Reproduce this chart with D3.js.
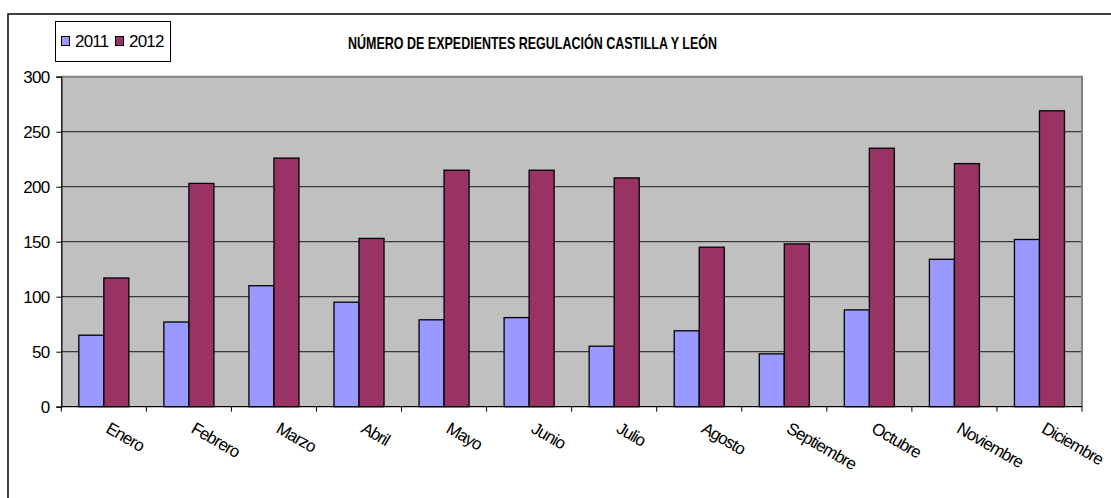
<!DOCTYPE html>
<style>
  body { margin: 0; background: white; }
  svg { font-family: 'Liberation Sans', Arial, sans-serif; }
</style>
<body>
</body>
<script src="https://cdn.jsdelivr.net/npm/d3@7/dist/d3.min.js"></script>
<script>
  const months = ['Enero', 'Febrero', 'Marzo', 'Abril', 'Mayo', 'Junio', 'Julio',
    'Agosto', 'Septiembre', 'Octubre', 'Noviembre', 'Diciembre'];
  const series = ['2011', '2012'];
  const v2011 = [65, 77, 110, 95, 79, 81, 55, 69, 48, 88, 134, 152];
  const v2012 = [117, 203, 226, 153, 215, 215, 208, 145, 148, 235, 221, 269];
  const yTicks = [0, 50, 100, 150, 200, 250, 300];
  const colors = {'2011': '#9999ff', '2012': '#993366'};
  const title = 'NÚMERO DE EXPEDIENTES REGULACIÓN CASTILLA Y LEÓN';

  const w = 1111, h = 498;
  const l = 61.3, r = 1082, t = 76.7, b = 406.7;

  const svg = d3.select('body').append('svg')
    .attr('width', w)
    .attr('height', h);

  // chart frame (runs off the right and bottom of the picture)
  svg.append('rect')
    .attr('x', 8).attr('y', 14)
    .attr('width', 1200).attr('height', 600)
    .attr('fill', 'white')
    .attr('stroke', '#111')
    .attr('stroke-width', 1.6);

  const x = d3.scaleBand().domain(months).range([l, r]);
  const xs = d3.scaleBand().domain(series).range([0, x.bandwidth()]).paddingOuter(0.7);
  const y = d3.scaleLinear().domain([0, 300]).range([b, t]);

  // plot area
  svg.append('rect')
    .attr('x', l).attr('y', y(300))
    .attr('width', r - l).attr('height', y(0) - y(300))
    .attr('fill', '#c0c0c0');

  svg.append('g')
    .selectAll('line')
    .data(yTicks.filter(d => d > 0 && d < 300))
    .join('line')
      .attr('x1', l).attr('x2', r)
      .attr('y1', d => y(d)).attr('y2', d => y(d))
      .attr('stroke', '#3a3a3a')
      .attr('stroke-width', 1.2);

  // plot border top / right
  svg.append('path')
    .attr('d', `M${l},${y(300)}H${r}V${y(0)}`)
    .attr('fill', 'none')
    .attr('stroke', '#808080')
    .attr('stroke-width', 2);

  const rows = months.map((m, i) => ({m, '2011': v2011[i], '2012': v2012[i]}));

  svg.append('g')
    .selectAll('g')
    .data(rows)
    .join('g')
      .attr('transform', d => `translate(${x(d.m)},0)`)
    .selectAll('rect')
    .data(d => series.map(s => ({s, v: d[s]})))
    .join('rect')
      .attr('x', d => xs(d.s))
      .attr('y', d => y(d.v))
      .attr('width', xs.bandwidth())
      .attr('height', d => y(0) - y(d.v))
      .attr('fill', d => colors[d.s])
      .attr('stroke', '#000')
      .attr('stroke-width', 1.3);

  // y axis
  const yAxis = svg.append('g')
    .attr('transform', `translate(${l},0)`)
    .call(d3.axisLeft(y).tickValues(yTicks).tickSize(5).tickPadding(7));
  yAxis.select('.domain').attr('stroke', '#000').attr('stroke-width', 1.3);
  yAxis.selectAll('.tick line').attr('stroke', '#000');
  yAxis.selectAll('text')
    .attr('font-size', 17)
    .attr('letter-spacing', -0.8)
    .attr('fill', '#000')
    .attr('font-family', "'Liberation Sans', Arial, sans-serif");

  // x axis
  const xg = svg.append('g');
  xg.append('line')
    .attr('x1', l).attr('x2', r)
    .attr('y1', b).attr('y2', b)
    .attr('stroke', '#000').attr('stroke-width', 1.3);
  xg.selectAll('.xt')
    .data(months.map(m => x(m)).concat([r]))
    .join('line')
      .attr('class', 'xt')
      .attr('x1', d => d).attr('x2', d => d)
      .attr('y1', b).attr('y2', b + 5)
      .attr('stroke', '#000');
  xg.selectAll('text')
    .data(months)
    .join('text')
      .attr('transform', d => `translate(${x(d) + x.bandwidth() / 2 + 1},${b + 25}) rotate(30)`)
      .attr('font-size', 17)
      .attr('letter-spacing', -1)
      .text(d => d);

  // title
  svg.append('text')
    .attr('x', 348).attr('y', 49)
    .attr('font-size', 17)
    .attr('font-weight', 'bold')
    .attr('textLength', 369)
    .attr('lengthAdjust', 'spacingAndGlyphs')
    .text(title);

  // legend
  const lg = svg.append('g');
  lg.append('rect')
    .attr('x', 55.5).attr('y', 21.5)
    .attr('width', 115).attr('height', 40)
    .attr('fill', 'white')
    .attr('stroke', '#000');
  const items = [{s: '2011', x: 61}, {s: '2012', x: 115}];
  lg.selectAll('.sw')
    .data(items)
    .join('rect')
      .attr('class', 'sw')
      .attr('x', d => d.x + 0.5).attr('y', 36.5)
      .attr('width', 8).attr('height', 9)
      .attr('fill', d => colors[d.s])
      .attr('stroke', '#000');
  lg.selectAll('text')
    .data(items)
    .join('text')
      .attr('x', d => d.x + 14).attr('y', 47)
      .attr('font-size', 17)
      .attr('letter-spacing', -0.8)
      .text(d => d.s);
</script>
